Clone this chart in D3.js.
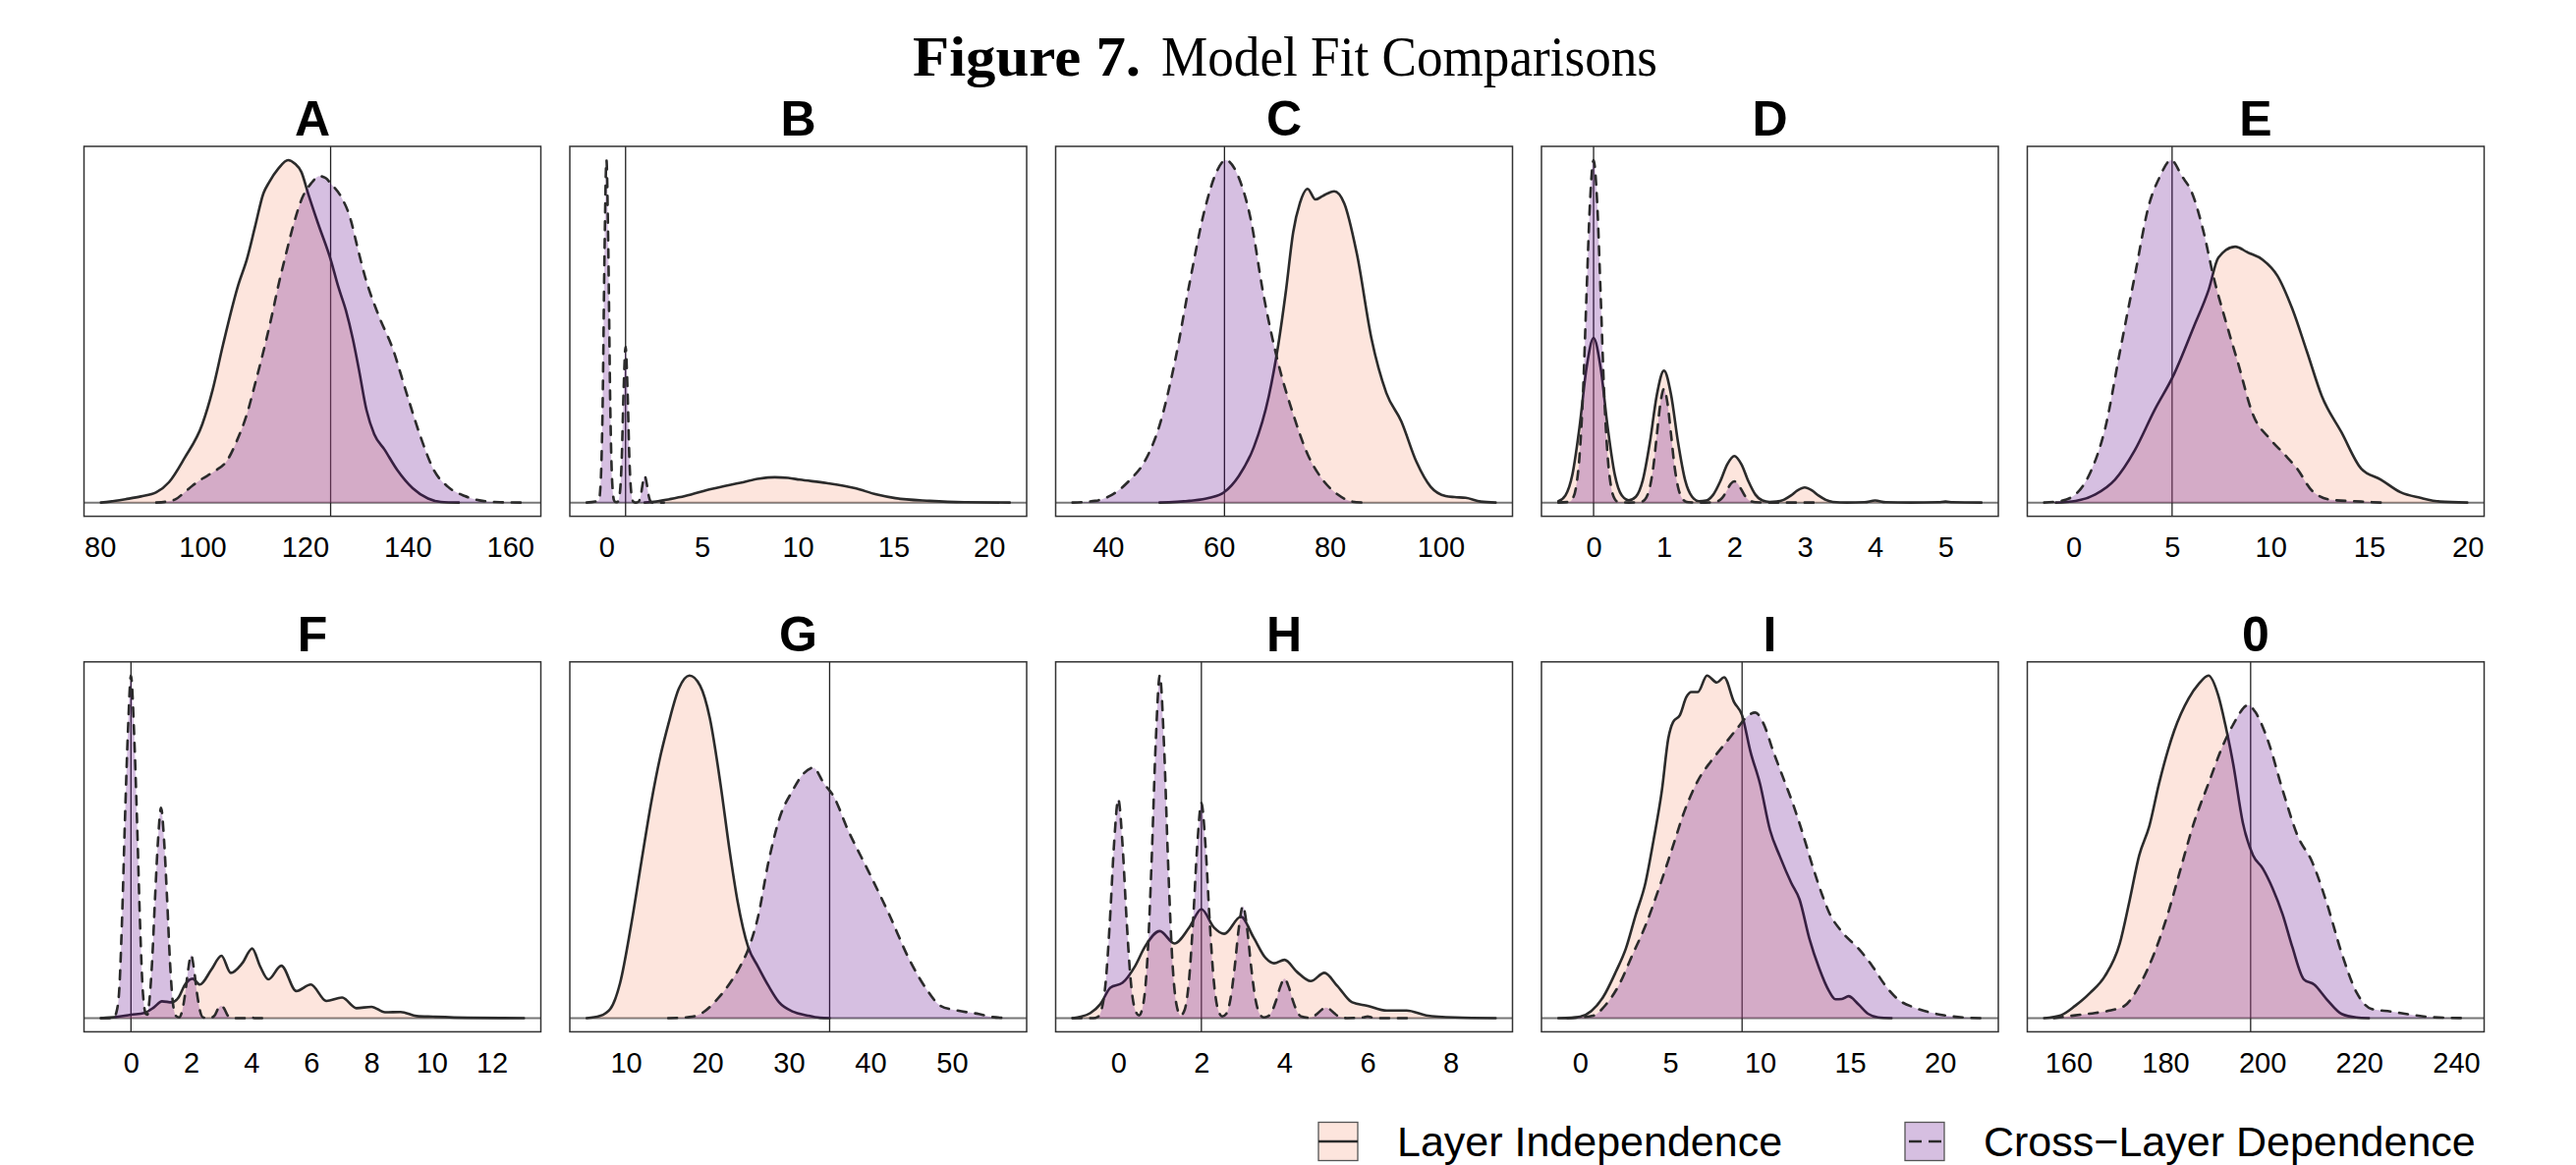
<!DOCTYPE html>
<html><head><meta charset="utf-8">
<script src="https://cdn.jsdelivr.net/npm/d3@7"></script>
<style>html,body{margin:0;padding:0;background:#fff;} svg{display:block;}</style>
</head><body>
<svg id="chart" width="2622" height="1186"></svg>
<script>
// ---------------- DATA ----------------
const figureLabel = "Figure 7.";
const figureTitle = "Model Fit Comparisons";
const panelTitles = ["A","B","C","D","E","F","G","H","I","0"];
const seriesNames = ["Layer Independence", "Cross\u2212Layer Dependence"];
const refValues = [125, 1, 61, 0, 5, 0, 35, 2, 9, 197.6];
const tickValues = [
  [80,100,120,140,160],[0,5,10,15,20],[40,60,80,100],[0,1,2,3,4,5],[0,5,10,15,20],
  [0,2,4,6,8,10,12],[10,20,30,40,50],[0,2,4,6,8],[0,5,10,15,20],[160,180,200,220,240]
];

// relative density heights: [value, density]
const indepA = [[80.2,0],[82,0.003],[85,0.01],[88,0.018],[91,0.03],[93.5,0.06],[96.5,0.13],[100,0.23],[102,0.33],[104,0.46],[107,0.636],[108.7,0.712],[110.3,0.808],[111.9,0.903],[113,0.935],[114.8,0.975],[116.7,1.0],[118,0.99],[119.3,0.965],[120.6,0.903],[122.5,0.817],[125,0.71],[126.5,0.63],[128,0.56],[129.3,0.48],[130.5,0.39],[132,0.27],[133.5,0.2],[135.5,0.155],[138,0.095],[141,0.042],[144,0.012],[146.5,0.002],[150,0]];
const crossA = [[91,0],[93,0.003],[94.8,0.01],[96.5,0.03],[98.1,0.05],[100,0.07],[102.2,0.09],[104.9,0.125],[106.7,0.18],[108.5,0.25],[110.5,0.36],[112.2,0.46],[113.6,0.55],[114.9,0.64],[116.2,0.72],[117.7,0.808],[119.3,0.884],[121.2,0.932],[122.8,0.953],[124,0.948],[125,0.932],[127,0.894],[128.9,0.827],[130,0.76],[131.7,0.66],[134.4,0.545],[137.1,0.45],[139.8,0.32],[142.5,0.194],[145.2,0.093],[147.9,0.046],[151.2,0.019],[154.6,0.005],[158,0.001],[162.7,0]];

const indepB = [[2.0,0],[2.6,0.003],[3.3,0.01],[4.1,0.019],[5.5,0.04],[7,0.058],[8,0.07],[8.8,0.074],[9.5,0.072],[10.1,0.067],[11.5,0.057],[13,0.042],[14.1,0.024],[15.1,0.013],[16.9,0.005],[18.7,0.001],[21.08,0]];
const crossB = [[-1.03,0],[-0.4,0.006],[-0.3,0.06],[-0.2,0.28],[-0.1,0.73],[0,1.0],[0.1,0.73],[0.2,0.28],[0.3,0.06],[0.4,0.006],[0.5,0.001],[0.6,0.003],[0.7,0.027],[0.8,0.127],[0.9,0.332],[1,0.455],[1.1,0.332],[1.2,0.127],[1.3,0.027],[1.4,0.003],[1.5,0],[1.6,0.0005],[1.7,0.004],[1.8,0.022],[1.9,0.057],[2,0.078],[2.1,0.057],[2.2,0.022],[2.3,0.004],[2.4,0],[3.0,0]];

const indepC = [[49.3,0],[54.7,0.005],[58.3,0.014],[60.9,0.03],[63.6,0.078],[66.3,0.162],[69,0.311],[70.7,0.46],[72.1,0.62],[73.4,0.79],[74.6,0.874],[76,0.916],[77.4,0.885],[78.7,0.895],[80.8,0.909],[82.6,0.874],[84.9,0.725],[87.5,0.48],[90.2,0.32],[92.9,0.237],[95.6,0.12],[98.2,0.046],[100.9,0.019],[102.5,0.016],[104.5,0.014],[107.2,0.003],[109.9,0]];
const crossC = [[33.6,0],[37.7,0.005],[40.4,0.02],[44,0.067],[46.6,0.12],[49.3,0.226],[52,0.407],[54.7,0.64],[57.4,0.853],[59.7,0.97],[61.2,1.0],[63.6,0.948],[65.7,0.83],[68,0.61],[70.7,0.407],[73.4,0.258],[76,0.141],[78.7,0.067],[81.4,0.024],[84,0.003],[86,0]];

const indepD = [[-0.5,0.004],[-0.4,0.021],[-0.3,0.083],[-0.2,0.22],[-0.1,0.394],[0,0.481],[0.1,0.394],[0.2,0.22],[0.3,0.083],[0.4,0.021],[0.5,0.007],[0.6,0.017],[0.7,0.066],[0.8,0.176],[0.9,0.316],[1,0.385],[1.1,0.316],[1.2,0.176],[1.3,0.066],[1.4,0.017],[1.5,0.004],[1.6,0.006],[1.7,0.023],[1.8,0.062],[1.9,0.112],[2,0.136],[2.1,0.112],[2.2,0.062],[2.3,0.023],[2.4,0.006],[2.5,0.002],[2.6,0.003],[2.7,0.008],[2.8,0.02],[2.9,0.036],[3,0.044],[3.1,0.036],[3.2,0.02],[3.3,0.008],[3.4,0.002],[3.6,0],[3.85,0.001],[4,0.006],[4.15,0.001],[4.5,0],[4.9,0.001],[5,0.003],[5.1,0.001],[5.51,0]];
const crossD = [[-0.5,0],[-0.35,0.002],[-0.3,0.011],[-0.25,0.044],[-0.2,0.135],[-0.15,0.32],[-0.1,0.61],[-0.05,0.88],[0,1],[0.05,0.88],[0.1,0.61],[0.15,0.32],[0.2,0.135],[0.25,0.044],[0.3,0.011],[0.35,0.002],[0.5,0],[0.65,0.001],[0.7,0.004],[0.75,0.015],[0.8,0.045],[0.85,0.106],[0.9,0.2],[0.95,0.29],[1,0.332],[1.05,0.29],[1.1,0.2],[1.15,0.106],[1.2,0.045],[1.25,0.015],[1.3,0.004],[1.35,0.001],[1.5,0],[1.7,0.001],[1.75,0.003],[1.8,0.008],[1.85,0.02],[1.9,0.038],[1.95,0.055],[2,0.062],[2.05,0.055],[2.1,0.038],[2.15,0.02],[2.2,0.008],[2.25,0.003],[2.3,0.001],[2.5,0],[3.2,0]];

const indepE = [[-0.9,0],[0.1,0.005],[1.1,0.024],[2.1,0.067],[3.1,0.152],[4.1,0.269],[5.1,0.375],[6.1,0.513],[6.85,0.62],[7.35,0.715],[8.2,0.747],[8.85,0.73],[9.6,0.709],[10.35,0.662],[11.1,0.566],[11.85,0.44],[12.6,0.311],[13.6,0.205],[14.6,0.099],[15.6,0.067],[16.6,0.03],[17.6,0.014],[18.6,0.003],[19.98,0]];
const crossE = [[-1.49,0],[-0.65,0.005],[0.1,0.024],[0.85,0.088],[1.6,0.216],[2.35,0.44],[3.1,0.66],[3.85,0.874],[4.35,0.948],[4.95,1.0],[5.5,0.953],[6,0.906],[6.6,0.79],[7.1,0.66],[7.7,0.534],[8.35,0.407],[9.1,0.258],[10,0.184],[10.7,0.141],[11.35,0.099],[12.1,0.035],[13.1,0.008],[14.6,0.003],[15.6,0]];

const indepF = [[-1.0,0],[-0.49,0.003],[0,0.01],[0.44,0.015],[0.76,0.031],[1.03,0.049],[1.36,0.046],[1.58,0.06],[1.8,0.098],[2.05,0.115],[2.29,0.098],[2.67,0.141],[3.01,0.182],[3.32,0.132],[3.7,0.16],[4.03,0.203],[4.3,0.15],[4.57,0.113],[5.0,0.153],[5.5,0.079],[5.98,0.098],[6.5,0.05],[7.02,0.06],[7.5,0.029],[8.0,0.033],[8.45,0.017],[8.97,0.018],[9.5,0.006],[10.05,0.004],[11.2,0.001],[13.07,0]];
const crossF = [[-1.0,0],[-0.55,0],[-0.5,0.012],[-0.4,0.07],[-0.3,0.28],[-0.2,0.58],[-0.1,0.84],[0,1.0],[0.1,0.84],[0.2,0.58],[0.3,0.28],[0.4,0.07],[0.5,0.012],[0.55,0.01],[0.6,0.04],[0.7,0.16],[0.8,0.35],[0.9,0.52],[1.0,0.614],[1.1,0.52],[1.2,0.35],[1.3,0.16],[1.4,0.04],[1.5,0.006],[1.6,0.002],[1.7,0.02],[1.8,0.07],[1.9,0.14],[2.0,0.184],[2.1,0.14],[2.2,0.07],[2.3,0.02],[2.4,0.002],[2.6,0],[2.7,0.002],[2.8,0.01],[2.9,0.028],[3.0,0.036],[3.1,0.028],[3.2,0.01],[3.3,0.002],[3.5,0],[3.9,0],[4.0,0.003],[4.1,0],[4.6,0]];

const indepG = [[5.2,0],[6.8,0.006],[8.1,0.027],[9.3,0.103],[10.6,0.265],[11.9,0.456],[13.1,0.628],[14.2,0.761],[15.2,0.857],[16.5,0.962],[17.8,1.0],[19.1,0.971],[20.3,0.876],[21.6,0.685],[22.7,0.494],[23.7,0.342],[25,0.208],[26.2,0.151],[27.5,0.094],[28.8,0.046],[30.5,0.019],[32.2,0.008],[33.8,0.001],[35,0]];
const crossG = [[15.2,0],[17.8,0.003],[19.5,0.017],[21.2,0.055],[22.8,0.103],[24,0.15],[25,0.2],[26.2,0.294],[27.5,0.456],[28.8,0.58],[30.5,0.666],[31.8,0.714],[33,0.731],[34.3,0.685],[35.5,0.647],[37.2,0.552],[39.8,0.427],[42.3,0.303],[44.8,0.17],[46.9,0.084],[48.6,0.036],[50.7,0.022],[53.3,0.012],[55,0.003],[57.1,0]];

const indepH = [[-1.1,0],[-0.9,0.004],[-0.67,0.015],[-0.43,0.041],[-0.19,0.089],[0.1,0.103],[0.4,0.151],[0.64,0.208],[1.0,0.254],[1.35,0.218],[1.71,0.265],[2.0,0.318],[2.3,0.265],[2.55,0.246],[2.95,0.296],[3.25,0.237],[3.55,0.175],[3.75,0.16],[4.0,0.17],[4.3,0.135],[4.63,0.108],[4.96,0.132],[5.27,0.094],[5.63,0.046],[6.0,0.036],[6.46,0.022],[6.94,0.022],[7.41,0.008],[8.1,0.002],[9.08,0]];
const crossH = [[-1.1,0],[-0.6,0],[-0.5,0.003],[-0.4,0.026],[-0.3,0.109],[-0.2,0.288],[-0.1,0.511],[0,0.639],[0.1,0.511],[0.2,0.288],[0.3,0.109],[0.4,0.026],[0.5,0.008],[0.6,0.04],[0.7,0.17],[0.8,0.45],[0.9,0.8],[1,1.0],[1.1,0.8],[1.2,0.45],[1.3,0.17],[1.4,0.04],[1.5,0.008],[1.6,0.025],[1.7,0.107],[1.8,0.283],[1.9,0.502],[2,0.628],[2.1,0.502],[2.2,0.283],[2.3,0.107],[2.4,0.025],[2.5,0.005],[2.6,0.013],[2.7,0.056],[2.8,0.147],[2.9,0.262],[3,0.327],[3.1,0.262],[3.2,0.147],[3.3,0.056],[3.4,0.013],[3.5,0.002],[3.6,0.005],[3.7,0.02],[3.8,0.052],[3.9,0.092],[4,0.115],[4.1,0.092],[4.2,0.052],[4.3,0.02],[4.4,0.005],[4.6,0.001],[4.7,0.005],[4.8,0.014],[4.9,0.025],[5,0.031],[5.1,0.025],[5.2,0.014],[5.3,0.005],[5.5,0],[5.9,0.002],[6,0.005],[6.1,0.002],[6.3,0],[7,0]];

const indepI = [[-1.21,0],[-0.5,0.001],[0,0.004],[0.62,0.021],[1.26,0.06],[1.99,0.136],[2.54,0.203],[3.08,0.3],[3.63,0.395],[4.08,0.52],[4.54,0.664],[4.9,0.817],[5.17,0.865],[5.54,0.884],[5.9,0.937],[6.18,0.952],[6.54,0.952],[7.05,1.0],[7.6,0.98],[8.0,0.995],[8.55,0.923],[9.0,0.884],[9.46,0.779],[10.0,0.683],[10.55,0.549],[11.1,0.472],[11.73,0.395],[12.19,0.347],[12.74,0.232],[13.28,0.146],[13.83,0.079],[14.19,0.055],[14.55,0.056],[14.92,0.064],[15.47,0.04],[16.02,0.012],[16.56,0.002],[17.3,0]];
const crossI = [[-0.7,0],[0,0.002],[0.72,0.007],[1.44,0.04],[2.17,0.098],[2.9,0.184],[3.63,0.27],[4.36,0.376],[5.09,0.491],[5.81,0.606],[6.54,0.693],[7.27,0.75],[8.0,0.798],[8.73,0.846],[9.27,0.88],[9.73,0.892],[10.19,0.86],[10.73,0.779],[11.28,0.702],[11.83,0.625],[12.37,0.539],[12.92,0.443],[13.47,0.357],[13.83,0.309],[14.56,0.251],[15.47,0.203],[16.2,0.155],[16.92,0.098],[17.66,0.055],[18.56,0.031],[19.48,0.016],[20.39,0.007],[21.3,0.002],[22.3,0]];

const indep0 = [[155,0],[158.4,0.008],[161.4,0.036],[164.5,0.074],[167.5,0.122],[170.6,0.218],[172.6,0.342],[174.6,0.475],[176.7,0.561],[178.7,0.685],[181.8,0.838],[184.8,0.933],[186.9,0.976],[188.9,1.0],[190.9,0.943],[192.4,0.855],[194,0.742],[196,0.57],[198.1,0.475],[200.1,0.437],[202.1,0.38],[204.2,0.303],[206.2,0.208],[208.6,0.113],[210.7,0.098],[213.3,0.055],[216.4,0.012],[219.4,0.002],[222,0]];
const cross0 = [[157,0],[161.4,0.008],[165.5,0.015],[168.5,0.022],[171.6,0.036],[174.6,0.094],[177.7,0.189],[180.7,0.313],[182.8,0.418],[185.9,0.57],[188.9,0.685],[192,0.8],[194,0.857],[197.1,0.914],[198.5,0.895],[201.2,0.809],[204.2,0.666],[207.3,0.532],[210.3,0.456],[213.4,0.332],[216.4,0.189],[219.5,0.074],[222.5,0.027],[226.6,0.019],[230.7,0.01],[234.7,0.003],[242.3,0]];

const indepSeries = [indepA, indepB, indepC, indepD, indepE, indepF, indepG, indepH, indepI, indep0];
const crossSeries = [crossA, crossB, crossC, crossD, crossE, crossF, crossG, crossH, crossI, cross0];

// ---------------- DRAW ----------------
const svg = d3.select("#chart");
svg.append("rect").attr("width", 2622).attr("height", 1186).attr("fill", "#fff");

const panelW = 465, panelH = 376.6, colStep = 494.5, left0 = 85.5;
const rowTops = [149, 673.8];
const peachFill = "rgba(248,150,120,0.25)";
const purpleFill = "rgba(91,0,135,0.25)";
const lineCol = "#2b2b2b";
const sans = "'Liberation Sans', Arial, Helvetica, sans-serif";
const serif = "'Liberation Serif', 'Times New Roman', serif";

panelTitles.forEach((title, i) => {
  const col = i % 5, row = Math.floor(i / 5);
  const x0 = left0 + col * colStep, y0 = rowTops[row];
  const ind = indepSeries[i], crs = crossSeries[i];
  const all = ind.concat(crs);
  const ext = d3.extent(all, d => d[0]);
  const pad = (ext[1] - ext[0]) * 0.04;
  const x = d3.scaleLinear().domain([ext[0] - pad, ext[1] + pad]).range([x0, x0 + panelW]);
  const ymax = d3.max(all, d => d[1]);
  const y = d3.scaleLinear().domain([-0.04 * ymax, 1.04 * ymax]).range([y0 + panelH, y0]);
  const g = svg.append("g");

  g.append("line").attr("x1", x0).attr("x2", x0 + panelW).attr("y1", y(0)).attr("y2", y(0))
    .attr("stroke", "#777").attr("stroke-width", 2);
  g.append("line").attr("x1", x(refValues[i])).attr("x2", x(refValues[i]))
    .attr("y1", y0).attr("y2", y0 + panelH).attr("stroke", "#222").attr("stroke-width", 1.3);

  const area = d3.area().x(d => x(d[0])).y0(y(0)).y1(d => y(d[1])).curve(d3.curveMonotoneX);
  const line = d3.line().x(d => x(d[0])).y(d => y(d[1])).curve(d3.curveMonotoneX);

  g.append("path").attr("d", area(ind)).attr("fill", peachFill);
  g.append("path").attr("d", line(ind)).attr("fill", "none").attr("stroke", lineCol)
    .attr("stroke-width", 2.6).attr("stroke-linejoin", "round").attr("stroke-linecap", "round");
  g.append("path").attr("d", area(crs)).attr("fill", purpleFill);
  g.append("path").attr("d", line(crs)).attr("fill", "none").attr("stroke", lineCol)
    .attr("stroke-width", 2.6).attr("stroke-dasharray", "9 9").attr("stroke-linecap", "round")
    .attr("stroke-linejoin", "round");

  g.append("rect").attr("x", x0).attr("y", y0).attr("width", panelW).attr("height", panelH)
    .attr("fill", "none").attr("stroke", "#333").attr("stroke-width", 1.5);

  const axis = d3.axisBottom(x).tickValues(tickValues[i]).tickSize(0).tickPadding(21)
    .tickFormat(d3.format("d"));
  const ag = g.append("g").attr("transform", `translate(0,${y0 + panelH})`).call(axis);
  ag.select(".domain").remove();
  ag.selectAll("text").attr("font-family", sans).attr("font-size", 29).attr("fill", "#000");
  ag.attr("font-family", sans).attr("font-size", 29);

  g.append("text").attr("x", x0 + panelW / 2).attr("y", y0 - 11)
    .attr("text-anchor", "middle").attr("font-family", sans).attr("font-weight", "bold")
    .attr("font-size", 50).attr("fill", "#000").text(title);
});

// figure title
svg.append("text").attr("x", 929).attr("y", 76.7).attr("font-family", serif)
  .attr("font-weight", "bold").attr("font-size", 56).attr("fill", "#000")
  .attr("textLength", 232).attr("lengthAdjust", "spacingAndGlyphs").text(figureLabel);
svg.append("text").attr("x", 1182).attr("y", 76.7).attr("font-family", serif)
  .attr("font-size", 56).attr("fill", "#000")
  .attr("textLength", 505).attr("lengthAdjust", "spacingAndGlyphs").text(figureTitle);

// legend
const legendX = [1342, 1939];
const legendFill = [peachFill, purpleFill];
const legendDash = [null, "13 7"];
seriesNames.forEach((name, k) => {
  const lx = legendX[k], ly = 1142.5;
  svg.append("rect").attr("x", lx).attr("y", ly).attr("width", 40).attr("height", 39)
    .attr("fill", legendFill[k]).attr("stroke", "#555").attr("stroke-width", 1.3);
  const ln = svg.append("line").attr("x1", lx).attr("x2", lx + 40).attr("y1", ly + 19.5).attr("y2", ly + 19.5)
    .attr("stroke", lineCol).attr("stroke-width", 2.6);
  if (legendDash[k]) ln.attr("stroke-dasharray", legendDash[k]).attr("stroke-dashoffset", -4);
  svg.append("text").attr("x", lx + 80).attr("y", 1176.7).attr("font-family", sans)
    .attr("font-size", 43).attr("fill", "#000").text(name);
});
</script>
</body></html>
